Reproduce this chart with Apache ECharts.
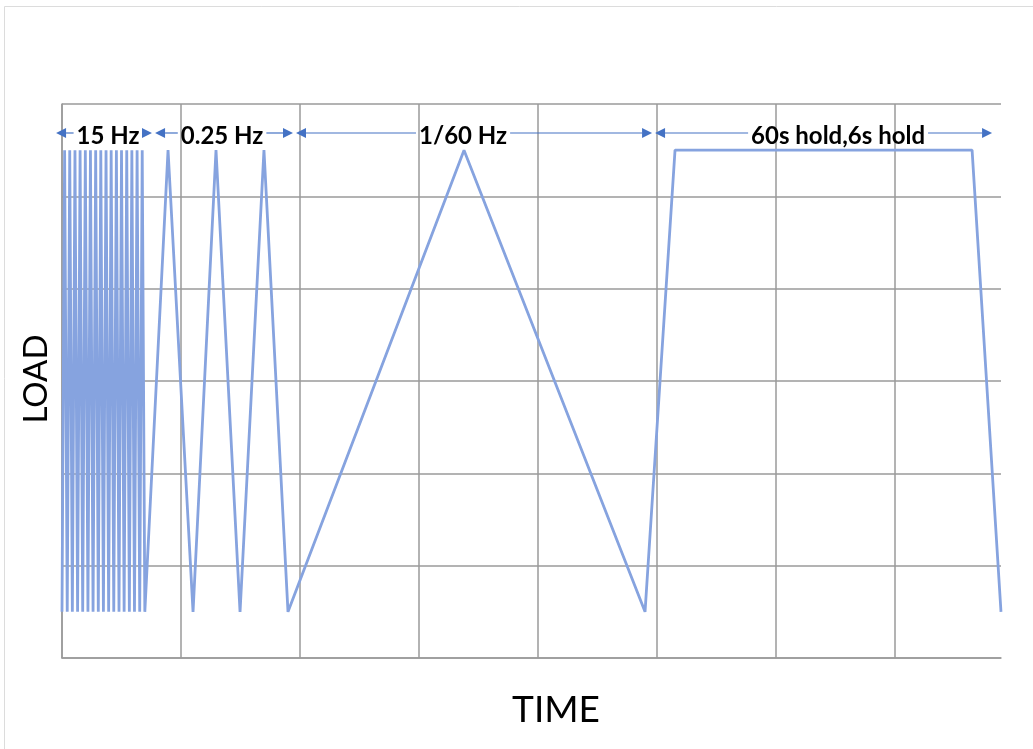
<!DOCTYPE html>
<html>
<head>
<meta charset="utf-8">
<script src="https://cdn.jsdelivr.net/npm/echarts@6/dist/echarts.min.js"></script>
<style>
  html, body { margin: 0; padding: 0; background: #ffffff; }
  #chart { width: 1033px; height: 749px; }
</style>
</head>
<body>
<div id="chart"></div>
<script>
// Load history: time in grid units, load level in grid units
const loadTime = [
  0.000, 0.022, 0.044, 0.065, 0.087, 0.109, 0.131, 0.152, 0.174, 0.196, 0.218,
  0.239, 0.261, 0.283, 0.305, 0.326, 0.348, 0.370, 0.392, 0.413, 0.435, 0.457,
  0.479, 0.500, 0.522, 0.544, 0.566, 0.587, 0.609, 0.631, 0.653, 0.674, 0.696,
  0.891, 1.101, 1.294, 1.496, 1.697, 1.899,
  3.378, 4.899,
  5.151, 7.647, 7.890
];
const loadLevel = [
  0.5, 5.5, 0.5, 5.5, 0.5, 5.5, 0.5, 5.5, 0.5, 5.5, 0.5,
  5.5, 0.5, 5.5, 0.5, 5.5, 0.5, 5.5, 0.5, 5.5, 0.5, 5.5,
  0.5, 5.5, 0.5, 5.5, 0.5, 5.5, 0.5, 5.5, 0.5, 5.5, 0.5,
  5.5, 0.5, 5.5, 0.5, 5.5, 0.5,
  5.5, 0.5,
  5.5, 5.5, 0.5
];

// Dimension arrows above each loading block
const bandStart   = [-0.050, 0.782, 1.966, 4.983];
const bandEnd     = [ 0.756, 1.941, 4.958, 7.815];
const bandLabelAt = [ 0.387, 1.345, 3.370, 6.521];
const bandLabels  = ['15 Hz', '0.25 Hz', '1/60 Hz', '60s hold,6s hold'];
const bandLevel   = 5.686;

const xMax = 7.89;
const yMax = 6;

const labelFont = 'bold 24px Lato, "Noto Sans", sans-serif';
const measureCtx = document.createElement('canvas').getContext('2d');
measureCtx.font = labelFont;

const arrowColor = '#4472C4';

function renderBand(params, api) {
  const i = api.value(4);
  const p0 = api.coord([api.value(0), api.value(1)]);
  const p1 = api.coord([api.value(2), api.value(1)]);
  const pl = api.coord([api.value(3), api.value(1)]);
  const y = p0[1];
  const text = bandLabels[i];
  const w = measureCtx.measureText(text).width;
  const gap = 3;
  const tl = pl[0] - w / 2 - gap;
  const tr = pl[0] + w / 2 + gap;
  const ah = 10, aw = 5;
  return {
    type: 'group',
    children: [
      { type: 'line', shape: { x1: p0[0] + ah, y1: y, x2: tl, y2: y },
        style: { stroke: arrowColor, lineWidth: 1.2 } },
      { type: 'line', shape: { x1: tr, y1: y, x2: p1[0] - ah, y2: y },
        style: { stroke: arrowColor, lineWidth: 1.2 } },
      { type: 'polygon', shape: { points: [[p0[0], y], [p0[0] + ah, y - aw], [p0[0] + ah, y + aw]] },
        style: { fill: arrowColor } },
      { type: 'polygon', shape: { points: [[p1[0], y], [p1[0] - ah, y - aw], [p1[0] - ah, y + aw]] },
        style: { fill: arrowColor } },
      { type: 'text', x: pl[0], y: y + 3,
        style: { text: text, font: labelFont, fill: '#000000', align: 'center', verticalAlign: 'middle' } }
    ]
  };
}

const chart = echarts.init(document.getElementById('chart'), null, { renderer: 'canvas' });

const gridColor = '#9a9a9a';

chart.setOption({
  animation: false,
  backgroundColor: '#ffffff',
  grid: { left: 62, right: 32, top: 104, bottom: 91, containLabel: false },
  xAxis: {
    type: 'value', min: 0, max: xMax, interval: 1,
    axisLine: { show: true, onZero: false, lineStyle: { color: gridColor, width: 1.5 } },
    axisTick: { show: false },
    axisLabel: { show: false },
    splitLine: { show: true, showMaxLine: false, lineStyle: { color: gridColor, width: 1.5 } }
  },
  yAxis: {
    type: 'value', min: 0, max: yMax, interval: 1,
    axisLine: { show: true, lineStyle: { color: gridColor, width: 1.5 } },
    axisTick: { show: false },
    axisLabel: { show: false },
    splitLine: { show: true, lineStyle: { color: gridColor, width: 1.5 } }
  },
  graphic: [
    { type: 'rect', silent: true, z: -1,
      shape: { x: 4.5, y: 6.5, width: 1100, height: 800 },
      style: { fill: 'none', stroke: '#dcdcdc', lineWidth: 1 } },
    { type: 'text', x: 556, y: 710,
      style: { text: 'TIME', font: '37px Lato, "Noto Sans", sans-serif', fill: '#000000',
               align: 'center', verticalAlign: 'middle' } },
    { type: 'text', x: 36, y: 379, rotation: Math.PI / 2,
      style: { text: 'LOAD', font: '33px Lato, "Noto Sans", sans-serif', fill: '#000000',
               align: 'center', verticalAlign: 'middle' } }
  ],
  series: [
    {
      type: 'line',
      data: loadTime.map((t, i) => [t, loadLevel[i]]),
      showSymbol: false,
      symbol: 'none',
      silent: true,
      lineStyle: { color: '#86A3DF', width: 2.8, join: 'bevel' },
      z: 3
    },
    {
      type: 'custom',
      coordinateSystem: 'cartesian2d',
      clip: false,
      silent: true,
      renderItem: renderBand,
      encode: { x: [0, 2, 3], y: 1 },
      data: bandStart.map((s, i) => [s, bandLevel, bandEnd[i], bandLabelAt[i], i]),
      z: 4
    }
  ]
});
</script>
</body>
</html>
